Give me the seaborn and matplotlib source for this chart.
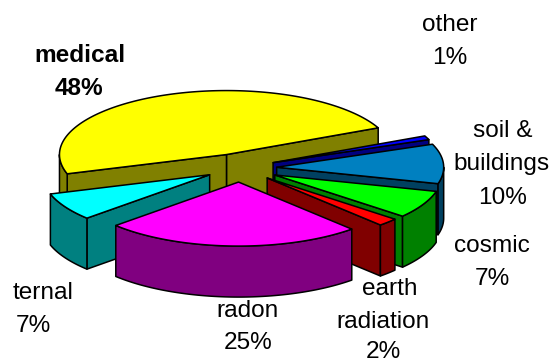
import numpy as np
import matplotlib
matplotlib.use("Agg")
import matplotlib.pyplot as plt
from matplotlib.patches import Polygon
import seaborn as sns

# Share of annual radiation dose by source, counter-clockwise from the start angle
sources = ["medical", "ternal", "radon", "earth\nradiation", "cosmic", "soil &\nbuildings", "other"]
shares = [48, 7, 25, 2, 7, 10, 1]
top_colors = ["#FFFF00", "#00FFFF", "#FF00FF", "#FF0000", "#00FF00", "#0080C0", "#0000FF"]
side_colors = ["#808000", "#008080", "#800080", "#800000", "#008000", "#004060", "#000080"]
explode = [0.225, 0.21, 0.22, 0.225, 0.235, 0.22, 0.215]

# Back-to-front order for painting the exploded slices
paint_order = [0, 6, 5, 4, 3, 1, 2]

# Per-line label anchors in figure pixels: (centre x, baseline y), value line last
label_lines = [
    [(80, 62), (79, 95)],
    [(43, 299), (33, 332)],
    [(248, 317), (248, 349)],
    [(390, 295), (383, 328), (383, 357.5)],
    [(492, 252), (492, 285)],
    [(503, 137), (502, 170), (503, 204)],
    [(450, 31), (450, 64)],
]

START_ANGLE = 24.7
WIDTH, HEIGHT = 555, 363
CX, CY, RX, RY, DEPTH = 240, 168, 167, 64, 51

sns.set_theme(style="white", font="Liberation Sans")
fig = plt.figure(figsize=(WIDTH / 100, HEIGHT / 100), dpi=100)
ax = fig.add_axes([0, 0, 1, 1])
ax.set_xlim(-CX / RX, (WIDTH - CX) / RX)
ax.set_ylim((CY - HEIGHT) / RY, CY / RY)
ax.axis("off")

depth = DEPTH / RY
edges = START_ANGLE + np.cumsum([0] + shares) * 3.6


def add_face(points, color, z):
    ax.add_patch(Polygon(points, closed=True, facecolor=color, edgecolor="black",
                         linewidth=1.1, joinstyle="round", zorder=z))


def rim(center, a0, a1):
    angles = np.radians(np.linspace(a0, a1, max(int(abs(a1 - a0)) * 2, 2) + 1))
    return np.column_stack([center[0] + np.cos(angles), center[1] + np.sin(angles)])


def add_wall(path, color, z):
    lower = path - np.array([0, depth])
    add_face(np.vstack([path, lower[::-1]]), color, z)


for layer, i in enumerate(paint_order):
    a0, a1 = edges[i], edges[i + 1]
    mid = np.radians((a0 + a1) / 2)
    apex = np.array([explode[i] * np.cos(mid), explode[i] * np.sin(mid)])
    z = 10 + layer * 5

    # Radial cut faces that look towards the viewer
    for a, sign in ((a0, 1), (a1, -1)):
        if sign * np.cos(np.radians(a)) > 0:
            tip = apex + [np.cos(np.radians(a)), np.sin(np.radians(a))]
            add_wall(np.array([apex, tip]), side_colors[i], z)

    # Outer curved wall: only the part on the near half of the ellipse
    for lo, hi in ((180, 360), (540, 720)):
        s, e = max(a0, lo), min(a1, hi)
        if e > s:
            add_wall(rim(apex, s, e), side_colors[i], z + 1)

    # Top face
    add_face(np.vstack([apex, rim(apex, a0, a1)]), top_colors[i], z + 2)

# Labels: name lines followed by the percentage
for i, (name, share) in enumerate(zip(sources, shares)):
    lines = name.split("\n") + [f"{share}%"]
    for line, (x, y) in zip(lines, label_lines[i]):
        fig.text(x / WIDTH, 1 - y / HEIGHT, line, ha="center", va="baseline",
                 color="black", fontsize=17.6,
                 fontweight="bold" if name == "medical" else "normal")

fig.savefig("out.png", dpi=100, facecolor="white")
